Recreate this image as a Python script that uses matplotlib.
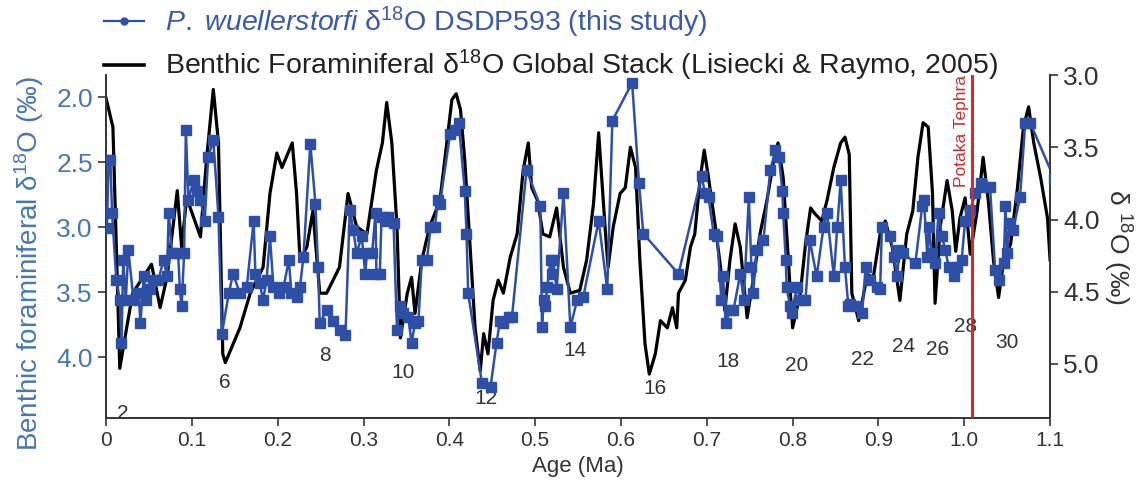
import matplotlib
matplotlib.use('Agg')
import matplotlib.pyplot as plt
from matplotlib.lines import Line2D

plt.rcParams['font.family'] = ['Liberation Sans', 'DejaVu Sans']
plt.rcParams['mathtext.fontset'] = 'custom'
plt.rcParams['mathtext.rm'] = 'Liberation Sans'
plt.rcParams['mathtext.it'] = 'Liberation Sans:italic'

# === LR04 global stack (right axis) ===
lr04_age = [0.0, 0.008, 0.016, 0.024, 0.031, 0.043, 0.053, 0.063, 0.071, 0.083, 0.088, 0.094,
            0.11, 0.117, 0.125, 0.131, 0.136, 0.139, 0.156, 0.168, 0.183, 0.191, 0.199, 0.205,
            0.217, 0.222, 0.226, 0.234, 0.241, 0.249, 0.257, 0.272, 0.282, 0.292, 0.304, 0.311,
            0.315, 0.322, 0.327, 0.333, 0.339, 0.343, 0.351, 0.356, 0.36, 0.368, 0.377, 0.389,
            0.397, 0.403, 0.408, 0.413, 0.418, 0.424, 0.43, 0.436, 0.44, 0.445, 0.451, 0.457,
            0.463, 0.471, 0.479, 0.486, 0.492, 0.496, 0.503, 0.509, 0.517, 0.525, 0.533, 0.541,
            0.552, 0.56, 0.568, 0.574, 0.582, 0.585, 0.591, 0.599, 0.605, 0.611, 0.617, 0.622,
            0.628, 0.633, 0.64, 0.646, 0.654, 0.66, 0.665, 0.667, 0.675, 0.681, 0.686, 0.692,
            0.697, 0.702, 0.71, 0.716, 0.721, 0.727, 0.733, 0.739, 0.747, 0.754, 0.762, 0.77,
            0.778, 0.783, 0.789, 0.795, 0.8, 0.809, 0.815, 0.821, 0.826, 0.834, 0.84, 0.848,
            0.856, 0.861, 0.866, 0.869, 0.877, 0.887, 0.894, 0.902, 0.908, 0.916, 0.925, 0.933,
            0.94, 0.946, 0.952, 0.958, 0.963, 0.966, 0.972, 0.98, 0.986, 0.99, 0.995, 1.001,
            1.007, 1.015, 1.022, 1.028, 1.034, 1.04, 1.046, 1.054, 1.062, 1.069, 1.075, 1.081,
            1.089, 1.097, 1.1]
lr04_d18o = [3.16, 3.36, 5.03, 4.75, 4.51, 4.40, 4.31, 4.61, 4.40, 3.80, 4.19, 3.85,
             4.12, 3.59, 3.10, 3.47, 4.93, 4.99, 4.75, 4.51, 4.33, 3.82, 3.54, 3.64,
             3.47, 3.82, 4.28, 4.19, 3.94, 4.51, 4.51, 4.33, 3.82, 4.05, 4.10, 3.82,
             3.66, 3.47, 3.19, 3.47, 4.05, 4.82, 4.51, 4.40, 4.65, 4.28, 4.05, 3.87,
             3.47, 3.17, 3.13, 3.24, 3.59, 4.17, 4.75, 5.05, 4.79, 4.93, 4.56, 4.42,
             4.51, 4.26, 4.10, 3.66, 3.47, 3.78, 3.87, 4.10, 4.12, 3.92, 4.33, 4.51,
             4.49, 4.28, 3.89, 3.40, 4.10, 4.33, 4.05, 3.82, 3.78, 3.50, 3.64, 4.28,
             4.86, 5.07, 4.93, 4.70, 4.75, 4.61, 4.75, 4.51, 4.42, 4.19, 4.10, 3.73,
             3.52, 3.71, 4.05, 4.33, 4.63, 4.28, 4.03, 4.19, 4.68, 4.42, 4.10, 3.87,
             3.59, 3.47, 3.71, 4.28, 4.75, 4.51, 4.17, 3.92, 3.96, 4.01, 3.87, 3.64,
             3.47, 3.43, 3.55, 4.51, 4.70, 4.38, 4.40, 4.10, 4.01, 4.19, 4.56, 4.10,
             3.94, 3.57, 3.33, 3.36, 3.82, 4.58, 4.05, 3.73, 3.94, 4.22, 3.99, 3.85,
             4.24, 3.94, 3.57, 3.87, 4.28, 4.54, 4.28, 4.17, 3.78, 3.36, 3.22, 3.47,
             3.71, 3.99, 4.28]

# === P. wuellerstorfi DSDP593 (left axis) ===
pw_age = [0.001, 0.003, 0.005, 0.007, 0.012, 0.016, 0.018, 0.020, 0.023, 0.026, 0.032, 0.038,
          0.040, 0.044, 0.047, 0.051, 0.055, 0.061, 0.067, 0.071, 0.073, 0.077, 0.084, 0.086,
          0.088, 0.091, 0.093, 0.096, 0.102, 0.106, 0.110, 0.115, 0.119, 0.125, 0.131, 0.135,
          0.143, 0.148, 0.156, 0.164, 0.172, 0.174, 0.179, 0.183, 0.187, 0.191, 0.195, 0.201,
          0.207, 0.213, 0.216, 0.222, 0.226, 0.230, 0.238, 0.244, 0.247, 0.249, 0.257, 0.265,
          0.273, 0.279, 0.284, 0.288, 0.292, 0.298, 0.302, 0.304, 0.310, 0.314, 0.315, 0.319,
          0.321, 0.325, 0.329, 0.335, 0.339, 0.342, 0.346, 0.352, 0.356, 0.360, 0.364, 0.368,
          0.374, 0.378, 0.383, 0.387, 0.389, 0.401, 0.407, 0.411, 0.418, 0.420, 0.422, 0.438,
          0.448, 0.455, 0.459, 0.463, 0.469, 0.473, 0.490, 0.506, 0.508, 0.510, 0.512, 0.514,
          0.518, 0.520, 0.521, 0.525, 0.533, 0.541, 0.549, 0.556, 0.574, 0.584, 0.590, 0.613,
          0.621, 0.626, 0.667, 0.694, 0.698, 0.702, 0.708, 0.712, 0.717, 0.719, 0.722, 0.727,
          0.731, 0.739, 0.743, 0.749, 0.752, 0.754, 0.758, 0.766, 0.774, 0.780, 0.784, 0.788,
          0.789, 0.792, 0.793, 0.797, 0.799, 0.805, 0.809, 0.815, 0.820, 0.828, 0.836, 0.840,
          0.848, 0.852, 0.856, 0.861, 0.865, 0.867, 0.875, 0.881, 0.885, 0.890, 0.898, 0.902,
          0.904, 0.914, 0.918, 0.922, 0.924, 0.929, 0.943, 0.951, 0.953, 0.957, 0.959, 0.962,
          0.966, 0.970, 0.974, 0.978, 0.982, 0.988, 0.992, 0.997, 1.001, 1.007, 1.013, 1.019,
          1.024, 1.030, 1.036, 1.040, 1.046, 1.048, 1.050, 1.053, 1.057, 1.065, 1.071, 1.077,
          1.105]
pw_d18o = [3.01, 2.48, 2.48, 2.89, 3.41, 3.56, 3.89, 3.25, 3.56, 3.18, 3.56, 3.51,
           3.74, 3.38, 3.56, 3.48, 3.41, 3.41, 3.25, 3.38, 2.89, 3.20, 3.20, 3.48,
           3.61, 3.20, 2.25, 2.79, 2.64, 2.72, 2.79, 2.95, 2.46, 2.33, 2.92, 3.82,
           3.51, 3.36, 3.51, 3.46, 2.95, 3.36, 3.43, 3.56, 3.41, 3.07, 3.46, 3.51,
           3.46, 3.25, 3.51, 3.54, 3.46, 3.23, 2.36, 2.82, 3.31, 3.74, 3.64, 3.72,
           3.79, 3.83, 2.87, 3.02, 3.20, 3.07, 3.36, 3.20, 3.20, 2.89, 3.36, 3.36,
           2.92, 2.95, 2.92, 2.97, 3.79, 3.61, 3.66, 3.69, 3.89, 3.74, 3.72, 3.25,
           3.25, 3.00, 3.00, 2.79, 2.82, 2.28, 2.25, 2.20, 2.72, 3.05, 3.51, 4.20,
           4.23, 3.89, 3.72, 3.74, 3.69, 3.69, 2.56, 2.84, 3.77, 3.56, 3.61, 3.46,
           3.25, 3.36, 3.25, 3.48, 2.74, 3.77, 3.56, 3.54, 2.95, 3.48, 2.18, 1.89,
           2.66, 3.05, 3.36, 2.61, 2.74, 2.77, 3.05, 3.07, 3.56, 3.38, 3.74, 3.64,
           3.64, 3.36, 3.56, 2.77, 3.31, 3.51, 3.18, 3.10, 2.56, 2.41, 2.46, 2.72,
           2.89, 3.25, 3.46, 3.61, 3.66, 3.46, 3.56, 3.56, 3.10, 3.38, 3.00, 2.89,
           3.38, 3.00, 2.64, 3.31, 3.61, 3.59, 3.61, 3.66, 3.31, 3.41, 3.46, 3.48,
           3.00, 3.07, 3.23, 3.38, 3.18, 3.20, 3.28, 2.84, 2.79, 3.23, 3.00, 3.20,
           3.28, 2.89, 3.07, 3.18, 3.31, 3.38, 3.31, 3.25, 2.95, 2.87, 2.74, 2.66,
           2.69, 2.69, 3.33, 3.41, 3.28, 2.84, 3.20, 2.97, 3.02, 2.77, 2.20, 2.20,
           2.63]

# marine isotope stage labels (label, age, right-axis value)
mis_labels = ["2", "6", "8", "10", "12", "14", "16", "18", "20", "22", "24", "26", "28", "30"]
mis_age = [0.019, 0.138, 0.255, 0.346, 0.443, 0.547, 0.640, 0.725, 0.805, 0.881, 0.929, 0.969, 1.001, 1.050]
mis_d18o = [5.34, 5.125, 4.94, 5.06, 5.24, 4.91, 5.17, 4.98, 5.01, 4.97, 4.88, 4.90, 4.74, 4.85]

tephra_age = 1.009

blue = '#2d4fa6'
label_blue = '#4676b4'
grey = '#333333'

fig = plt.figure(figsize=(11.44, 4.84), dpi=100)
ax = fig.add_axes([0.0927, 0.136, 0.8252, 0.709])
ax2 = ax.twinx()

# black stack on right axis, under the blue series
ax2.plot(lr04_age, lr04_d18o, color='black', lw=2.3, zorder=2)
ax2.set_ylim(5.375, 3.0)
ax2.set_yticks([3.0, 3.5, 4.0, 4.5, 5.0])
ax2.set_yticklabels(['3.0', '3.5', '4.0', '4.5', '5.0'])
ax2.tick_params(axis='y', labelsize=19, colors=grey, length=6, width=1.2)
ax2.set_ylabel('δ $^{18}$O (‰)', color=grey, fontsize=19, rotation=270, labelpad=24)

ax.set_zorder(ax2.get_zorder() + 1)
ax.patch.set_visible(False)
ax.plot(pw_age, pw_d18o, color=blue, lw=1.8, marker='s', ms=6.8, zorder=3)
ax.set_xlim(0, 1.1)
ax.set_ylim(4.47, 1.83)
ax.set_yticks([2.0, 2.5, 3.0, 3.5, 4.0])
ax.set_yticklabels(['2.0', '2.5', '3.0', '3.5', '4.0'])
ax.tick_params(axis='y', labelsize=19, labelcolor=label_blue, color=grey, length=6, width=1.2)
ax.set_xticks([i / 10 for i in range(12)])
ax.set_xticklabels(['0'] + ['%.1f' % (i / 10) for i in range(1, 12)])
ax.tick_params(axis='x', labelsize=15, colors=grey, length=6, width=1.2)
ax.set_xlabel('Age (Ma)', fontsize=16, color=grey, labelpad=4)
ax.set_ylabel('Benthic foraminiferal δ$^{18}$O (‰)', color=label_blue, fontsize=20, labelpad=2)
ax.yaxis.set_label_coords(-0.064, 0.45)

for a in (ax, ax2):
    a.spines['top'].set_visible(False)
    for s in ('left', 'right', 'bottom'):
        a.spines[s].set_color(grey)
        a.spines[s].set_linewidth(1.2)

# Potaka Tephra
ax.axvline(tephra_age, color='#d42a2a', lw=2.2, zorder=4)
ax.text(tephra_age - 0.004, 1.0, 'Potaka Tephra', transform=ax.get_xaxis_transform(),
        rotation=90, ha='right', va='top', color='#d42a2a', fontsize=12.5)

for lab, x, y in zip(mis_labels, mis_age, mis_d18o):
    ax2.text(x, y, lab, ha='center', va='center', fontsize=15, color=grey)

handles = [Line2D([], [], color=blue, lw=1.6, marker='o', ms=5),
           Line2D([], [], color='black', lw=2.6)]
labels = [r'$\it{P.\ wuellerstorfi}$ δ$^{18}$O DSDP593 (this study)',
          'Benthic Foraminiferal δ$^{18}$O Global Stack (Lisiecki & Raymo, 2005)']
leg = fig.legend(handles, labels, loc='upper left', bbox_to_anchor=(0.091, 0.99),
                 frameon=False, fontsize=20.5, handlelength=1.4, handletextpad=0.75,
                 borderpad=0.0, borderaxespad=0.0, labelspacing=0.28)
leg.get_texts()[0].set_color('#3a5aa8')
leg.get_texts()[1].set_color('#222222')

fig.savefig('out.png', dpi=100)
